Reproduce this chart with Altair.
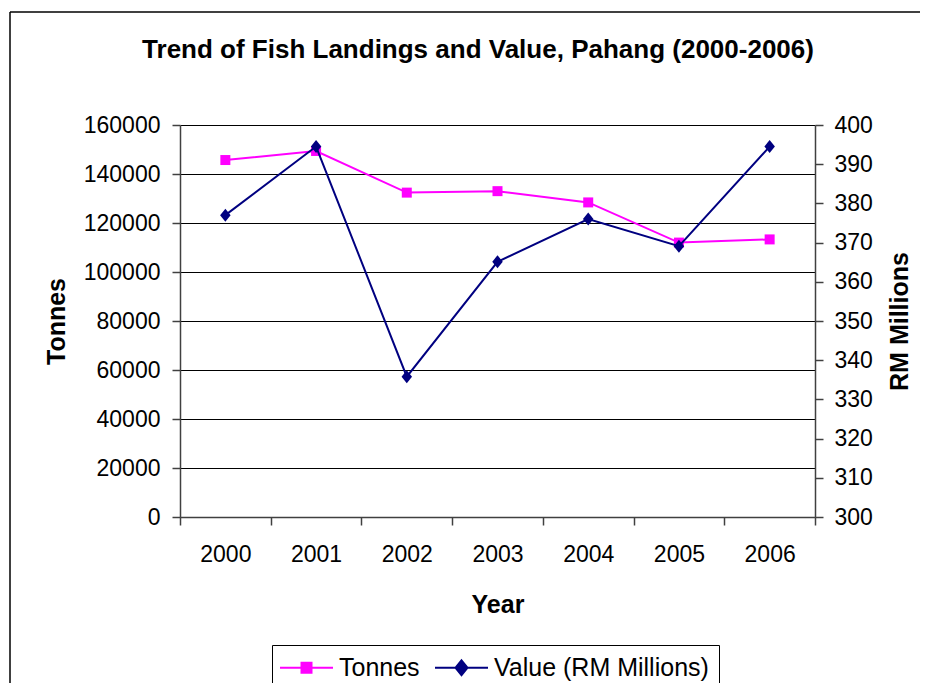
import altair as alt
import pandas as pd

years = ["2000", "2001", "2002", "2003", "2004", "2005", "2006"]
tonnes = [145700, 149400, 132400, 133000, 128400, 112000, 113300]
value_rm = [377.0, 394.5, 335.8, 365.1, 376.0, 369.1, 394.5]

series_names = ["Tonnes", "Value (RM Millions)"]
series_colors = ["#FF00FF", "#000080"]
left_ticks = [0, 20000, 40000, 60000, 80000, 100000, 120000, 140000, 160000]
right_ticks = [300, 310, 320, 330, 340, 350, 360, 370, 380, 390, 400]

FONT = "Liberation Sans"
SQUARE = "M-1,-1H1V1H-1Z"
DIAMOND = "M0,-1.3L1.05,0L0,1.3L-1.05,0Z"
LEG_SQUARE = "M-5.3,0H5.3M-1,-1H1V1H-1Z"
LEG_DIAMOND = "M-5.3,0H5.3M0,-1.5L1.2,0L0,1.5L-1.2,0Z"

df = pd.DataFrame({"Year": years, "Tonnes": tonnes, "Value": value_rm})

W, H = 635, 392
PAD = {"left": 172, "top": 117, "right": 105, "bottom": 166}

x_enc = alt.X(
    "Year:O",
    bandPosition=0.5,
    scale=alt.Scale(type="band", paddingInner=0, paddingOuter=0),
    axis=alt.Axis(
        title="Year", labelAngle=0, tickBand="extent", grid=False,
        labelPadding=18, titlePadding=26,
    ),
)

y_left = alt.Y(
    "Tonnes:Q",
    scale=alt.Scale(domain=[0, 160000], nice=False),
    axis=alt.Axis(
        orient="left", title="Tonnes", values=left_ticks, format="d",
        grid=True, gridColor="#000000", gridWidth=1, labelPadding=12,
        titlePadding=14,
    ),
)
y_right = alt.Y(
    "Value:Q",
    scale=alt.Scale(domain=[300, 400], nice=False),
    axis=alt.Axis(
        orient="right", title="RM Millions", values=right_ticks, format="d",
        grid=False, labelPadding=11, titlePadding=15, titleAngle=270,
        titleBaseline="top",
    ),
)

base = alt.Chart(df)
tonnes_layer = alt.layer(
    base.mark_line(color=series_colors[0], strokeWidth=2).encode(x=x_enc, y=y_left),
    base.mark_point(shape=SQUARE, filled=True, size=100, opacity=1,
                    color=series_colors[0]).encode(x=x_enc, y=y_left),
)
value_layer = alt.layer(
    base.mark_line(color=series_colors[1], strokeWidth=2).encode(x=x_enc, y=y_right),
    base.mark_point(shape=DIAMOND, filled=True, size=100, opacity=1,
                    color=series_colors[1]).encode(x=x_enc, y=y_right),
)

leg = alt.Legend(
    title=None, orient="none", legendX=92, legendY=520, direction="horizontal",
    strokeColor="#000000", padding=10, columnPadding=11,
    labelOffset=20, symbolOffset=12, symbolSize=100, symbolStrokeWidth=2,
    symbolOpacity=1, labelFontSize=25, labelFont=FONT, labelLimit=400,
    labelColor="#000000",
)
legend_layer = base.transform_filter("false").mark_point(filled=True, opacity=1).encode(
    fill=alt.Fill("s:N", scale=alt.Scale(domain=series_names, range=series_colors), legend=leg),
    stroke=alt.Stroke("s:N", scale=alt.Scale(domain=series_names, range=series_colors), legend=leg),
    shape=alt.Shape("s:N", scale=alt.Scale(domain=series_names, range=[LEG_SQUARE, LEG_DIAMOND]), legend=leg),
).transform_calculate(s="'x'")

one = pd.DataFrame({"a": [0]})
frame_left = alt.Chart(one).mark_rule(color="#000000", strokeWidth=1.5).encode(
    x=alt.value(-170), y=alt.value(-113), y2=alt.value(H + PAD["bottom"])
)
frame_top = alt.Chart(one).mark_rule(color="#000000", strokeWidth=1.5).encode(
    x=alt.value(-170), x2=alt.value(W + PAD["right"]), y=alt.value(-113)
)

chart = alt.layer(
    frame_left, frame_top, tonnes_layer, value_layer, legend_layer
).resolve_scale(y="independent").properties(
    width=W, height=H, padding=PAD, autosize="none",
    title=alt.Title(
        "Trend of Fish Landings and Value, Pahang (2000-2006)",
        fontSize=26, fontWeight="bold", font=FONT, anchor="middle",
        frame="group", dx=-19.5, dy=56, color="#000000",
    ),
).configure(font=FONT).configure_axis(
    labelFont=FONT, labelFontSize=23, labelColor="#000000",
    titleFont=FONT, titleFontSize=25, titleFontWeight="bold", titleColor="#000000",
    domainColor="#404040", domainWidth=1.5, tickColor="#404040", tickWidth=1.5,
    tickSize=8,
).configure_view(stroke=None)

chart.save("out.html", embed_options={"renderer": "svg", "actions": False})
